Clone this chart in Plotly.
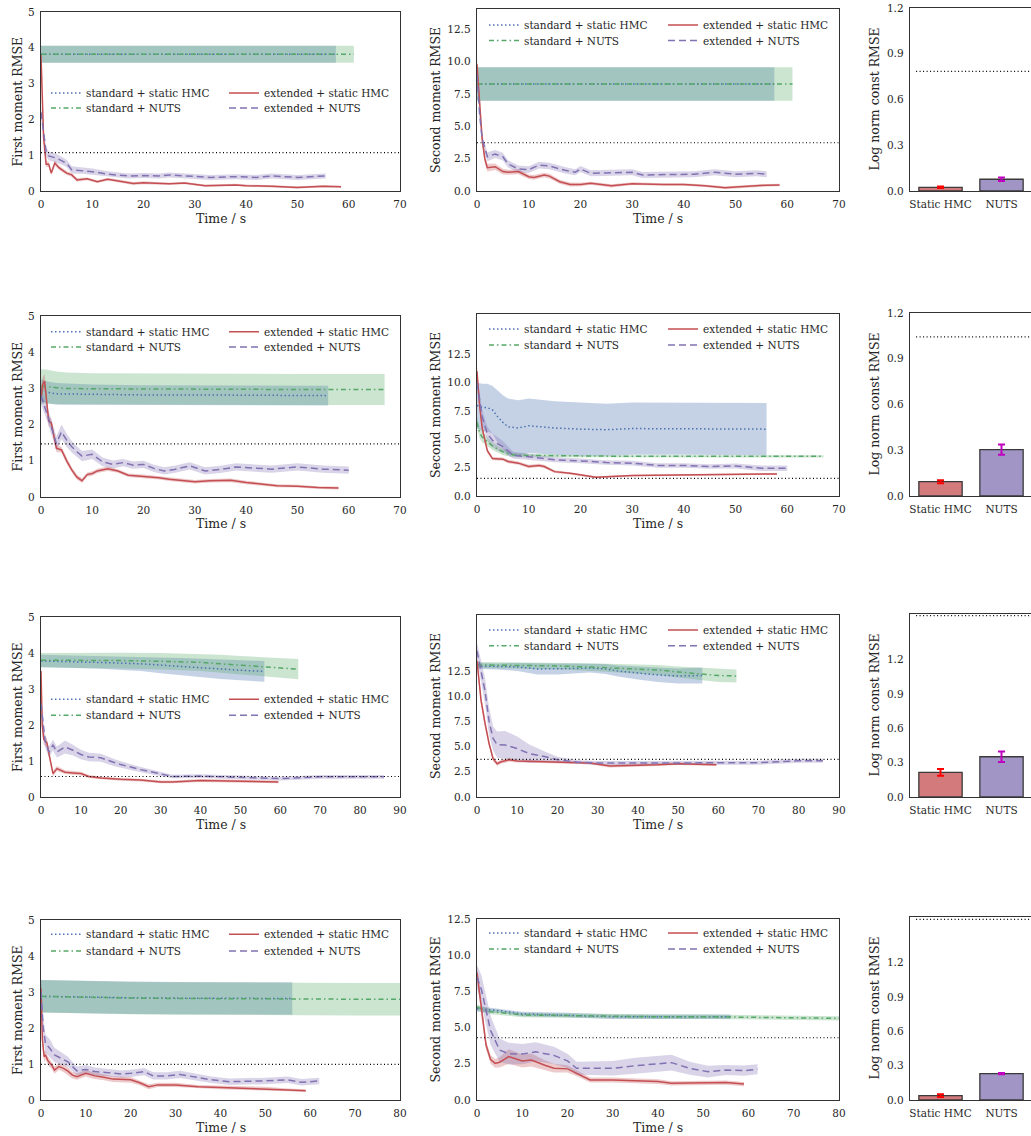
import plotly.graph_objects as go

# ------------------------------------------------------------------ data
# Row 1 — first moment
fm1_std_hmc_t = [0, 10, 20, 30, 40, 50, 57.5]
fm1_std_hmc_m = [3.82, 3.82, 3.82, 3.82, 3.82, 3.82, 3.82]
fm1_std_hmc_s = [0.235, 0.235, 0.235, 0.235, 0.235, 0.235, 0.235]
fm1_std_nuts_t = [0, 10, 20, 30, 40, 50, 61]
fm1_std_nuts_m = [3.82, 3.82, 3.82, 3.82, 3.82, 3.82, 3.82]
fm1_std_nuts_s = [0.235, 0.235, 0.235, 0.235, 0.235, 0.235, 0.235]
fm1_ext_hmc_t = [0, 0.5, 1, 1.5, 2, 2.7, 3.5, 5, 6, 7, 9, 11, 13, 15, 18, 20, 25, 28, 32, 38, 40, 45, 50, 55, 58.5]
fm1_ext_hmc_m = [3.8, 1.5, 0.75, 0.75, 0.5, 0.78, 0.65, 0.5, 0.45, 0.31, 0.34, 0.26, 0.33, 0.28, 0.21, 0.23, 0.2, 0.22, 0.15, 0.17, 0.15, 0.13, 0.1, 0.13, 0.12]
fm1_ext_hmc_s = [0.12, 0.1, 0.08, 0.08, 0.07, 0.07, 0.06, 0.05, 0.05, 0.05, 0.04, 0.04, 0.04, 0.04, 0.04, 0.04, 0.03, 0.03, 0.03, 0.03, 0.03, 0.03, 0.03, 0.03, 0.03]
fm1_ext_nuts_t = [0, 0.5, 1, 1.5, 2, 3, 4, 5, 6, 8, 10, 13, 15, 17, 20, 23, 25, 28, 30, 33, 38, 42, 45, 50, 55.5]
fm1_ext_nuts_m = [2.2, 1.6, 1.1, 0.98, 0.96, 0.92, 0.85, 0.77, 0.59, 0.57, 0.54, 0.47, 0.45, 0.42, 0.43, 0.42, 0.45, 0.42, 0.4, 0.38, 0.4, 0.38, 0.42, 0.38, 0.42]
fm1_ext_nuts_s = [0.15, 0.15, 0.13, 0.12, 0.12, 0.12, 0.11, 0.1, 0.1, 0.09, 0.09, 0.08, 0.08, 0.07, 0.07, 0.07, 0.07, 0.07, 0.07, 0.07, 0.07, 0.07, 0.07, 0.07, 0.07]

# Row 1 — second moment
sm1_std_hmc_t = [0, 10, 20, 30, 40, 50, 57.5]
sm1_std_hmc_m = [8.27, 8.27, 8.27, 8.27, 8.27, 8.27, 8.27]
sm1_std_hmc_s = [1.29, 1.29, 1.29, 1.29, 1.29, 1.29, 1.29]
sm1_std_nuts_t = [0, 10, 20, 30, 40, 50, 61]
sm1_std_nuts_m = [8.27, 8.27, 8.27, 8.27, 8.27, 8.27, 8.27]
sm1_std_nuts_s = [1.29, 1.29, 1.29, 1.29, 1.29, 1.29, 1.29]
sm1_ext_hmc_t = [0, 0.5, 1, 1.5, 2, 3.5, 5, 6, 8, 10, 11, 13, 14, 16, 18, 20, 22, 26, 30, 36, 40, 44, 48, 50, 53, 56, 58.5]
sm1_ext_hmc_m = [9.8, 7.0, 4.0, 2.5, 1.8, 1.88, 1.5, 1.45, 1.5, 1.1, 1.05, 1.24, 1.15, 0.72, 0.5, 0.5, 0.6, 0.4, 0.57, 0.5, 0.5, 0.4, 0.26, 0.3, 0.4, 0.45, 0.46]
sm1_ext_hmc_s = [0.5, 0.5, 0.4, 0.35, 0.3, 0.25, 0.22, 0.2, 0.2, 0.18, 0.18, 0.18, 0.18, 0.15, 0.15, 0.13, 0.12, 0.12, 0.1, 0.1, 0.1, 0.1, 0.1, 0.1, 0.1, 0.1, 0.1]
sm1_ext_nuts_t = [0, 0.5, 1, 2, 3.5, 5, 6, 8, 10, 12, 14, 17, 19, 20, 22, 27, 30, 32, 38, 42, 46, 50, 54, 56]
sm1_ext_nuts_m = [9.0, 6.0, 4.0, 2.65, 2.86, 2.65, 2.1, 1.7, 1.65, 2.0, 1.93, 1.6, 1.45, 1.7, 1.37, 1.4, 1.45, 1.24, 1.3, 1.3, 1.45, 1.3, 1.37, 1.3]
sm1_ext_nuts_s = [0.5, 0.5, 0.45, 0.35, 0.3, 0.3, 0.28, 0.27, 0.26, 0.26, 0.25, 0.25, 0.24, 0.24, 0.23, 0.23, 0.23, 0.23, 0.23, 0.23, 0.23, 0.23, 0.23, 0.23]

# Row 2 — first moment
fm2_std_hmc_t = [0, 1, 3, 10, 20, 30, 40, 50, 56]
fm2_std_hmc_m = [2.95, 2.9, 2.85, 2.83, 2.82, 2.82, 2.81, 2.8, 2.8]
fm2_std_hmc_s = [0.3, 0.3, 0.3, 0.28, 0.27, 0.27, 0.27, 0.27, 0.27]
fm2_std_nuts_t = [0, 1, 3, 5, 10, 20, 30, 40, 50, 60, 67]
fm2_std_nuts_m = [3.05, 3.05, 3.02, 3.0, 2.99, 2.98, 2.98, 2.97, 2.97, 2.97, 2.97]
fm2_std_nuts_s = [0.48, 0.47, 0.45, 0.44, 0.43, 0.43, 0.43, 0.43, 0.43, 0.43, 0.43]
fm2_ext_hmc_t = [0, 0.3, 0.7, 1, 1.5, 2, 2.5, 3, 4, 5, 6, 7, 8, 9, 10, 11, 13, 15, 17, 20, 23, 25, 28, 30, 33, 37, 40, 43, 46, 50, 54, 58]
fm2_ext_hmc_m = [2.7, 3.1, 3.2, 2.8, 2.1, 2.05, 1.7, 1.35, 1.3, 1.0, 0.75, 0.55, 0.45, 0.62, 0.65, 0.72, 0.78, 0.72, 0.6, 0.57, 0.53, 0.49, 0.45, 0.42, 0.45, 0.46, 0.4, 0.35, 0.31, 0.3, 0.26, 0.25]
fm2_ext_hmc_s = [0.2, 0.2, 0.2, 0.2, 0.15, 0.12, 0.1, 0.1, 0.08, 0.08, 0.07, 0.07, 0.06, 0.06, 0.06, 0.06, 0.06, 0.05, 0.05, 0.05, 0.05, 0.05, 0.05, 0.05, 0.05, 0.05, 0.05, 0.05, 0.04, 0.04, 0.04, 0.04]
fm2_ext_nuts_t = [0, 1, 2, 3, 4, 5, 6, 7, 8, 10, 12, 14, 16, 18, 20, 22, 24, 26, 29, 32, 35, 38, 42, 45, 50, 55, 60]
fm2_ext_nuts_m = [2.8, 2.4, 1.94, 1.48, 1.8, 1.57, 1.39, 1.25, 1.13, 1.18, 0.97, 0.9, 0.95, 0.88, 0.9, 0.79, 0.72, 0.76, 0.86, 0.72, 0.76, 0.83, 0.8, 0.77, 0.83, 0.77, 0.74]
fm2_ext_nuts_s = [0.25, 0.22, 0.2, 0.2, 0.2, 0.18, 0.16, 0.15, 0.14, 0.13, 0.12, 0.11, 0.1, 0.1, 0.1, 0.1, 0.1, 0.1, 0.1, 0.1, 0.1, 0.1, 0.1, 0.1, 0.1, 0.1, 0.1]

# Row 2 — second moment
sm2_std_hmc_t = [0, 1, 2, 3, 4, 5, 6, 8, 10, 15, 20, 25, 30, 40, 50, 56]
sm2_std_hmc_m = [8.0, 7.8, 7.8, 7.6, 7.0, 6.5, 6.1, 6.0, 6.2, 6.0, 5.9, 5.85, 5.95, 5.95, 5.9, 5.9]
sm2_std_hmc_s = [2.0, 2.1, 2.1, 2.1, 2.3, 2.4, 2.5, 2.45, 2.4, 2.35, 2.35, 2.3, 2.3, 2.3, 2.3, 2.3]
sm2_std_nuts_t = [0, 0.5, 1, 2, 3, 5, 7, 10, 15, 20, 30, 40, 50, 60, 67]
sm2_std_nuts_m = [6.5, 5.6, 5.2, 4.8, 4.4, 3.9, 3.62, 3.58, 3.55, 3.5, 3.5, 3.5, 3.5, 3.5, 3.5]
sm2_std_nuts_s = [0.5, 0.5, 0.45, 0.4, 0.35, 0.3, 0.2, 0.15, 0.12, 0.1, 0.1, 0.1, 0.1, 0.1, 0.1]
sm2_ext_hmc_t = [0, 0.5, 1, 2, 3, 5, 6, 8, 10, 12, 13, 15, 18, 20, 23, 30, 40, 50, 58]
sm2_ext_hmc_m = [11.0, 8.0, 6.0, 4.0, 3.3, 3.25, 3.05, 2.9, 2.6, 2.7, 2.6, 2.15, 2.0, 1.85, 1.65, 1.8, 1.85, 1.95, 1.95]
sm2_ext_hmc_s = [0.5, 0.4, 0.3, 0.2, 0.15, 0.15, 0.15, 0.15, 0.15, 0.15, 0.15, 0.12, 0.1, 0.1, 0.1, 0.08, 0.08, 0.08, 0.08]
sm2_ext_nuts_t = [0, 0.5, 1, 2, 3, 4, 5, 7, 10, 15, 20, 25, 30, 35, 40, 45, 50, 55, 60]
sm2_ext_nuts_m = [10.0, 8.5, 7.0, 5.5, 4.9, 4.6, 4.35, 3.6, 3.45, 3.2, 3.1, 2.95, 2.9, 2.7, 2.7, 2.6, 2.65, 2.45, 2.45]
sm2_ext_nuts_s = [0.8, 0.7, 0.6, 0.6, 0.6, 0.6, 0.5, 0.3, 0.25, 0.22, 0.2, 0.2, 0.2, 0.2, 0.2, 0.2, 0.22, 0.25, 0.25]

# Row 3 — first moment
fm3_std_hmc_t = [0, 5, 10, 15, 20, 25, 30, 35, 40, 45, 50, 56]
fm3_std_hmc_m = [3.78, 3.77, 3.76, 3.74, 3.72, 3.7, 3.66, 3.62, 3.58, 3.55, 3.52, 3.49]
fm3_std_hmc_s = [0.17, 0.17, 0.17, 0.18, 0.19, 0.2, 0.22, 0.24, 0.26, 0.27, 0.28, 0.29]
fm3_std_nuts_t = [0, 10, 20, 30, 35, 40, 45, 50, 55, 60, 64.5]
fm3_std_nuts_m = [3.8, 3.8, 3.79, 3.77, 3.76, 3.74, 3.7, 3.66, 3.62, 3.58, 3.55]
fm3_std_nuts_s = [0.2, 0.21, 0.22, 0.23, 0.23, 0.24, 0.25, 0.26, 0.27, 0.28, 0.28]
fm3_ext_hmc_t = [0, 0.3, 0.7, 1.5, 2, 3, 4, 5, 6, 8, 10, 12, 15, 20, 25, 30, 33, 40, 50, 59.5]
fm3_ext_hmc_m = [3.5, 2.0, 1.6, 1.5, 1.2, 0.65, 0.79, 0.75, 0.69, 0.67, 0.65, 0.57, 0.53, 0.49, 0.47, 0.42, 0.42, 0.46, 0.45, 0.42]
fm3_ext_hmc_s = [0.2, 0.2, 0.15, 0.12, 0.1, 0.08, 0.07, 0.06, 0.05, 0.05, 0.05, 0.04, 0.04, 0.04, 0.04, 0.04, 0.04, 0.04, 0.04, 0.04]
fm3_ext_nuts_t = [0, 0.5, 1, 2, 3, 4, 6, 8, 10, 12, 15, 18, 20, 25, 30, 33, 40, 45, 50, 60, 70, 80, 86]
fm3_ext_nuts_m = [2.6, 2.0, 1.57, 1.25, 1.44, 1.25, 1.39, 1.3, 1.18, 1.11, 1.09, 0.97, 0.9, 0.76, 0.65, 0.57, 0.58, 0.56, 0.53, 0.51, 0.56, 0.57, 0.56]
fm3_ext_nuts_s = [0.2, 0.2, 0.18, 0.15, 0.15, 0.15, 0.18, 0.15, 0.13, 0.12, 0.11, 0.1, 0.09, 0.07, 0.06, 0.05, 0.05, 0.05, 0.05, 0.05, 0.05, 0.05, 0.05]

# Row 3 — second moment
sm3_std_hmc_t = [0, 5, 10, 15, 20, 25, 28, 32, 35, 40, 45, 50, 56]
sm3_std_hmc_m = [13.0, 12.95, 12.9, 12.7, 12.7, 12.75, 12.8, 12.7, 12.5, 12.3, 12.1, 12.0, 12.05]
sm3_std_hmc_s = [0.3, 0.3, 0.4, 0.55, 0.55, 0.5, 0.45, 0.5, 0.55, 0.65, 0.7, 0.75, 0.8]
sm3_std_nuts_t = [0, 10, 20, 30, 40, 45, 50, 55, 60, 64.5]
sm3_std_nuts_m = [13.1, 13.05, 13.0, 12.85, 12.7, 12.6, 12.4, 12.25, 12.05, 12.0]
sm3_std_nuts_s = [0.3, 0.3, 0.33, 0.38, 0.45, 0.5, 0.55, 0.6, 0.65, 0.65]
sm3_ext_hmc_t = [0, 0.5, 1, 2, 3, 4, 5, 6, 8, 10, 15, 20, 25, 28, 33, 37, 45, 50, 59.5]
sm3_ext_hmc_m = [13.5, 11.8, 9.6, 7.3, 5.3, 3.8, 3.3, 3.5, 3.7, 3.57, 3.5, 3.47, 3.4, 3.37, 3.07, 3.1, 3.2, 3.3, 3.2]
sm3_ext_hmc_s = [0.5, 0.5, 0.5, 0.4, 0.3, 0.25, 0.2, 0.2, 0.2, 0.15, 0.12, 0.12, 0.12, 0.12, 0.15, 0.15, 0.12, 0.12, 0.12]
sm3_ext_nuts_t = [0, 0.5, 1, 2, 3, 4, 5, 7, 10, 13, 17, 20, 25, 30, 40, 50, 60, 70, 80, 86]
sm3_ext_nuts_m = [14.5, 13.5, 12.5, 10.5, 7.5, 5.8, 5.2, 5.15, 4.8, 4.3, 4.0, 3.7, 3.45, 3.37, 3.37, 3.37, 3.37, 3.4, 3.6, 3.6]
sm3_ext_nuts_s = [0.8, 1.0, 1.2, 1.3, 1.4, 1.2, 1.3, 1.4, 1.2, 0.9, 0.5, 0.3, 0.2, 0.2, 0.2, 0.2, 0.2, 0.2, 0.2, 0.2]

# Row 4 — first moment
fm4_std_hmc_t = [0, 10, 20, 30, 40, 50, 56]
fm4_std_hmc_m = [2.88, 2.85, 2.84, 2.83, 2.83, 2.82, 2.82]
fm4_std_hmc_s = [0.45, 0.45, 0.45, 0.45, 0.45, 0.45, 0.45]
fm4_std_nuts_t = [0, 10, 20, 30, 40, 50, 60, 70, 80]
fm4_std_nuts_m = [2.88, 2.85, 2.83, 2.82, 2.81, 2.8, 2.8, 2.8, 2.8]
fm4_std_nuts_s = [0.45, 0.45, 0.45, 0.45, 0.45, 0.45, 0.45, 0.45, 0.45]
fm4_ext_hmc_t = [0, 0.3, 0.7, 1, 1.5, 2, 2.5, 3, 4, 5, 6, 7, 8, 10, 11, 12, 14, 16, 20, 22, 24, 26, 30, 35, 40, 45, 50, 55, 59]
fm4_ext_hmc_m = [3.1, 1.7, 1.2, 1.25, 1.1, 1.02, 0.95, 0.83, 0.93, 0.88, 0.8, 0.69, 0.65, 0.74, 0.7, 0.67, 0.63, 0.58, 0.56, 0.48, 0.37, 0.42, 0.42, 0.37, 0.35, 0.33, 0.32, 0.28, 0.26]
fm4_ext_hmc_s = [0.3, 0.2, 0.15, 0.12, 0.12, 0.1, 0.1, 0.1, 0.1, 0.1, 0.1, 0.09, 0.09, 0.09, 0.09, 0.09, 0.08, 0.08, 0.08, 0.07, 0.07, 0.06, 0.06, 0.05, 0.05, 0.05, 0.05, 0.04, 0.04]
fm4_ext_nuts_t = [0, 0.5, 1, 2, 3, 4, 5, 6, 7, 8, 10, 12, 15, 18, 20, 23, 25, 28, 31, 34, 38, 42, 45, 50, 55, 58, 62]
fm4_ext_nuts_m = [3.0, 2.0, 1.57, 1.43, 1.25, 1.18, 1.11, 1.06, 0.93, 0.81, 0.85, 0.79, 0.76, 0.72, 0.74, 0.79, 0.67, 0.67, 0.71, 0.65, 0.56, 0.51, 0.51, 0.53, 0.56, 0.49, 0.53]
fm4_ext_nuts_s = [0.4, 0.3, 0.25, 0.25, 0.2, 0.18, 0.16, 0.14, 0.13, 0.12, 0.12, 0.11, 0.1, 0.1, 0.1, 0.1, 0.1, 0.1, 0.1, 0.1, 0.09, 0.09, 0.09, 0.09, 0.09, 0.09, 0.09]

# Row 4 — second moment
sm4_std_hmc_t = [0, 3, 5, 10, 20, 30, 40, 50, 56]
sm4_std_hmc_m = [6.3, 6.2, 6.17, 5.94, 5.87, 5.75, 5.75, 5.75, 5.75]
sm4_std_hmc_s = [0.2, 0.18, 0.15, 0.15, 0.15, 0.15, 0.15, 0.15, 0.15]
sm4_std_nuts_t = [0, 3, 10, 20, 30, 40, 50, 60, 70, 80]
sm4_std_nuts_m = [6.4, 6.1, 5.87, 5.82, 5.75, 5.75, 5.75, 5.72, 5.7, 5.64]
sm4_std_nuts_s = [0.2, 0.18, 0.15, 0.15, 0.15, 0.15, 0.15, 0.15, 0.15, 0.15]
sm4_ext_hmc_t = [0, 0.5, 1, 2, 3, 4, 5, 7, 10, 12, 15, 17, 20, 22, 25, 30, 35, 40, 43, 50, 55, 59]
sm4_ext_hmc_m = [8.8, 7.5, 6.0, 3.8, 2.8, 2.53, 2.6, 3.0, 2.7, 2.76, 2.4, 2.2, 2.15, 1.85, 1.38, 1.38, 1.33, 1.27, 1.15, 1.2, 1.2, 1.1]
sm4_ext_hmc_s = [0.4, 0.4, 0.35, 0.3, 0.3, 0.3, 0.35, 0.5, 0.45, 0.45, 0.35, 0.3, 0.25, 0.2, 0.18, 0.17, 0.17, 0.17, 0.15, 0.15, 0.15, 0.15]
sm4_ext_nuts_t = [0, 1, 2, 3, 5, 7, 10, 13, 17, 20, 22, 25, 30, 35, 40, 43, 47, 51, 55, 59, 62]
sm4_ext_nuts_m = [8.5, 7.6, 6.2, 4.8, 3.45, 3.2, 3.17, 3.33, 3.08, 2.7, 2.19, 2.19, 2.19, 2.37, 2.53, 2.58, 2.19, 1.96, 2.07, 2.03, 2.12]
sm4_ext_nuts_s = [0.8, 1.0, 1.0, 1.0, 0.8, 0.75, 0.7, 0.65, 0.6, 0.5, 0.45, 0.45, 0.5, 0.55, 0.55, 0.55, 0.45, 0.4, 0.35, 0.35, 0.35]

# Reference (dotted) levels per row
fm_ref = [1.07, 1.47, 0.57, 0.99]
sm_ref = [3.73, 1.56, 3.74, 4.3]
lnc_ref = [0.784, 1.043, 1.585, 1.58]

# Log normalising-constant RMSE bars per row
bar_cats = ["Static HMC", "NUTS"]
lnc_val = [[0.024, 0.077], [0.094, 0.304], [0.215, 0.352], [0.038, 0.231]]
lnc_err = [[0.005, 0.012], [0.01, 0.033], [0.03, 0.045], [0.012, 0.006]]

# Axis extents / ticks
time_max = [70, 70, 90, 80]
fm_ymax = [5, 5, 5, 5]
sm_ymax = [14.07, 16.06, 18.05, 12.5]
lnc_ymax = [1.2, 1.2, 1.6, 1.6]
fm_yticks = [0, 1, 2, 3, 4, 5]
sm_yticks = [0, 2.5, 5, 7.5, 10, 12.5]
lnc_yticks = [0, 0.3, 0.6, 0.9, 1.2]

series_names = ["standard + static HMC", "standard + NUTS", "extended + static HMC", "extended + NUTS"]

fm_data = [
    [(fm1_std_hmc_t, fm1_std_hmc_m, fm1_std_hmc_s), (fm1_std_nuts_t, fm1_std_nuts_m, fm1_std_nuts_s),
     (fm1_ext_hmc_t, fm1_ext_hmc_m, fm1_ext_hmc_s), (fm1_ext_nuts_t, fm1_ext_nuts_m, fm1_ext_nuts_s)],
    [(fm2_std_hmc_t, fm2_std_hmc_m, fm2_std_hmc_s), (fm2_std_nuts_t, fm2_std_nuts_m, fm2_std_nuts_s),
     (fm2_ext_hmc_t, fm2_ext_hmc_m, fm2_ext_hmc_s), (fm2_ext_nuts_t, fm2_ext_nuts_m, fm2_ext_nuts_s)],
    [(fm3_std_hmc_t, fm3_std_hmc_m, fm3_std_hmc_s), (fm3_std_nuts_t, fm3_std_nuts_m, fm3_std_nuts_s),
     (fm3_ext_hmc_t, fm3_ext_hmc_m, fm3_ext_hmc_s), (fm3_ext_nuts_t, fm3_ext_nuts_m, fm3_ext_nuts_s)],
    [(fm4_std_hmc_t, fm4_std_hmc_m, fm4_std_hmc_s), (fm4_std_nuts_t, fm4_std_nuts_m, fm4_std_nuts_s),
     (fm4_ext_hmc_t, fm4_ext_hmc_m, fm4_ext_hmc_s), (fm4_ext_nuts_t, fm4_ext_nuts_m, fm4_ext_nuts_s)],
]
sm_data = [
    [(sm1_std_hmc_t, sm1_std_hmc_m, sm1_std_hmc_s), (sm1_std_nuts_t, sm1_std_nuts_m, sm1_std_nuts_s),
     (sm1_ext_hmc_t, sm1_ext_hmc_m, sm1_ext_hmc_s), (sm1_ext_nuts_t, sm1_ext_nuts_m, sm1_ext_nuts_s)],
    [(sm2_std_hmc_t, sm2_std_hmc_m, sm2_std_hmc_s), (sm2_std_nuts_t, sm2_std_nuts_m, sm2_std_nuts_s),
     (sm2_ext_hmc_t, sm2_ext_hmc_m, sm2_ext_hmc_s), (sm2_ext_nuts_t, sm2_ext_nuts_m, sm2_ext_nuts_s)],
    [(sm3_std_hmc_t, sm3_std_hmc_m, sm3_std_hmc_s), (sm3_std_nuts_t, sm3_std_nuts_m, sm3_std_nuts_s),
     (sm3_ext_hmc_t, sm3_ext_hmc_m, sm3_ext_hmc_s), (sm3_ext_nuts_t, sm3_ext_nuts_m, sm3_ext_nuts_s)],
    [(sm4_std_hmc_t, sm4_std_hmc_m, sm4_std_hmc_s), (sm4_std_nuts_t, sm4_std_nuts_m, sm4_std_nuts_s),
     (sm4_ext_hmc_t, sm4_ext_hmc_m, sm4_ext_hmc_s), (sm4_ext_nuts_t, sm4_ext_nuts_m, sm4_ext_nuts_s)],
]

# ------------------------------------------------------------------ style / layout
W, H = 1031, 1136
FONT = "DejaVu Serif"
TXT = "#262626"
FRAME = "#333333"
LINE_COL = ["#4C72B0", "#55A868", "#C44E52", "#8172B2"]
BAND_COL = ["rgba(76,114,176,0.32)", "rgba(85,168,104,0.30)", "rgba(196,78,82,0.30)", "rgba(129,114,178,0.30)"]
DASH = ["1.5px,2.5px", "5px,3px,1.5px,3px", "solid", "7px,4px"]
BAR_COL = ["rgba(196,78,82,0.75)", "rgba(129,114,178,0.75)"]
ERR_COL = ["#FF0000", "#BF00BF"]

# panel boxes in pixels: (left, top, right, bottom)
BOX = {
    (0, 0): (41, 12, 400, 191), (0, 1): (477, 9, 839, 191), (0, 2): (910, 8, 1031, 191),
    (1, 0): (41, 316, 400, 497), (1, 1): (477, 314, 839, 496), (1, 2): (910, 313, 1031, 496),
    (2, 0): (41, 617, 400, 797), (2, 1): (477, 615, 839, 797), (2, 2): (910, 614, 1031, 797),
    (3, 0): (41, 920, 400, 1100), (3, 1): (477, 919, 839, 1100), (3, 2): (910, 917, 1031, 1100),
}
LEG_ROWS = {
    (0, 0): (93, 108), (0, 1): (25, 40.5),
    (1, 0): (331.7, 347), (1, 1): (329, 345),
    (2, 0): (699.3, 715.3), (2, 1): (630, 645.7),
    (3, 0): (934.3, 951), (3, 1): (933, 949),
}
LEG_COLS = {0: (52, 230), 1: (490, 669)}
YTITLE_X = {0: 17, 1: 435, 2: 874}
YTITLES = {0: "First moment RMSE", 1: "Second moment RMSE", 2: "Log norm const RMSE"}


def fx(x):
    return x / W


def fy(y):
    return 1 - y / H


fig = go.Figure()
layout = dict(
    width=W, height=H, margin=dict(l=0, r=0, t=0, b=0, autoexpand=False),
    paper_bgcolor="white", plot_bgcolor="white", barmode="overlay",
    showlegend=True, font=dict(family=FONT, color=TXT, size=10),
)
annotations = []
shapes = []
legend_counter = [0]


def axis_style(domain, rng, tickvals, fmt, mirror=True, ticktext=None):
    d = dict(domain=domain, range=rng, tickvals=tickvals,
             showline=True, linecolor=FRAME, linewidth=1.3, mirror=mirror,
             ticks="outside", ticklen=3, tickcolor="rgba(0,0,0,0)", automargin=False,
             showgrid=False, zeroline=False, fixedrange=True,
             tickfont=dict(family=FONT, size=10.5, color=TXT))
    if fmt is not None:
        d["tickformat"] = fmt
    if ticktext is not None:
        d["ticktext"] = ticktext
    return d


def names(k):
    s = "" if k == 1 else str(k)
    return "x" + s, "y" + s, "xaxis" + s, "yaxis" + s


def new_legend(x, y):
    legend_counter[0] += 1
    n = legend_counter[0]
    key = "legend" if n == 1 else "legend%d" % n
    layout[key] = dict(x=x, y=y, xanchor="left", yanchor="middle", xref="paper", yref="paper",
                       bgcolor="rgba(0,0,0,0)", borderwidth=0,
                       font=dict(family=FONT, size=10.5, color=TXT))
    return key


for r in range(4):
    for c in range(3):
        k = r * 3 + c + 1
        xa, ya, xkey, ykey = names(k)
        L, T, R, B = BOX[(r, c)]
        xdom = [fx(L), fx(R)]
        ydom = [fy(B), fy(T)]
        if c < 2:
            data = fm_data[r] if c == 0 else sm_data[r]
            ymax = fm_ymax[r] if c == 0 else sm_ymax[r]
            yt = fm_yticks if c == 0 else sm_yticks
            ref = fm_ref[r] if c == 0 else sm_ref[r]
            tmax = time_max[r]
            layout[xkey] = axis_style(xdom, [0, tmax], list(range(0, tmax + 1, 10)), "d")
            layout[xkey]["anchor"] = ya
            layout[ykey] = axis_style(ydom, [0, ymax], yt, "d" if c == 0 else ".1f")
            layout[ykey]["anchor"] = xa
            # bands
            for i, (t, m, s) in enumerate(data):
                lo = [mi - si for mi, si in zip(m, s)]
                hi = [mi + si for mi, si in zip(m, s)]
                fig.add_trace(go.Scatter(x=t, y=lo, mode="lines", line=dict(width=0, color=BAND_COL[i]),
                                         showlegend=False, hoverinfo="skip", xaxis=xa, yaxis=ya))
                fig.add_trace(go.Scatter(x=t, y=hi, mode="lines", line=dict(width=0, color=BAND_COL[i]),
                                         fill="tonexty", fillcolor=BAND_COL[i],
                                         showlegend=False, hoverinfo="skip", xaxis=xa, yaxis=ya))
            # mean lines
            rows = LEG_ROWS[(r, c)]
            cols = LEG_COLS[c]
            for i, (t, m, s) in enumerate(data):
                lx = cols[i // 2] - 6
                lyp = rows[i % 2]
                lk = new_legend(fx(lx), fy(lyp))
                fig.add_trace(go.Scatter(x=t, y=m, mode="lines", name=series_names[i],
                                         line=dict(color=LINE_COL[i], width=1.5, dash=DASH[i]),
                                         xaxis=xa, yaxis=ya, legend=lk, showlegend=True))
            shapes.append(dict(type="line", xref=xa + " domain", x0=0, x1=1, yref=ya, y0=ref, y1=ref,
                               line=dict(color="black", width=1.2, dash="1px,2.5px")))
            annotations.append(dict(text="Time / s", x=fx((L + R) / 2), y=fy(B + 27), xref="paper", yref="paper",
                                    xanchor="center", yanchor="middle", showarrow=False,
                                    font=dict(family=FONT, size=12.5, color=TXT)))
        else:
            xmax = (R - L) / 61.0 - 0.5
            layout[xkey] = axis_style(xdom, [-0.5, xmax], [0, 1], None, ticktext=bar_cats)
            layout[xkey]["anchor"] = ya
            layout[ykey] = axis_style(ydom, [0, lnc_ymax[r]], lnc_yticks, ".1f", mirror=False)
            layout[ykey]["anchor"] = xa
            for i in range(2):
                fig.add_trace(go.Bar(x=[i], y=[lnc_val[r][i]], width=0.71, name=bar_cats[i],
                                     marker=dict(color=BAR_COL[i], line=dict(color="#3a3a3a", width=1.3)),
                                     error_y=dict(type="data", array=[lnc_err[r][i]], color=ERR_COL[i],
                                                  thickness=2, width=3.5),
                                     xaxis=xa, yaxis=ya, showlegend=False))
            shapes.append(dict(type="line", xref=xa, x0=-0.4, x1=xmax, yref=ya, y0=lnc_ref[r], y1=lnc_ref[r],
                               line=dict(color="black", width=1.2, dash="1px,2.5px")))
        annotations.append(dict(text=YTITLES[c], x=fx(YTITLE_X[c]), y=fy((T + B) / 2), xref="paper", yref="paper",
                                xanchor="center", yanchor="middle", textangle=-90, showarrow=False,
                                font=dict(family=FONT, size=12.5, color=TXT)))

layout["annotations"] = annotations
layout["shapes"] = shapes
fig.update_layout(**layout)
fig.write_html(
    "out.html",
    config={"displayModeBar": False, "staticPlot": True},
    post_script="document.documentElement.style.margin='0';document.body.style.margin='0';"
                "document.body.style.overflow='hidden';",
)
